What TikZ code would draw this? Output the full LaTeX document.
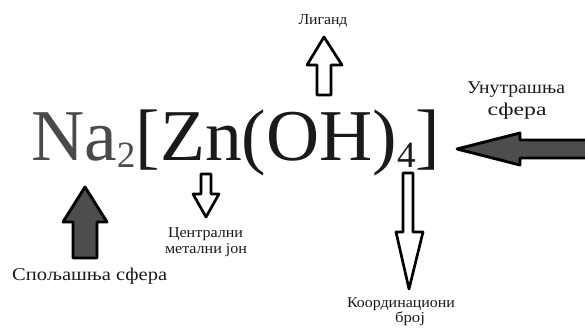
\documentclass[tikz,border=0pt]{standalone}
\usepackage{fontspec}
\usepackage{graphicx}
\setmainfont{Liberation Serif}
\definecolor{nagray}{HTML}{4A4A4A}
\definecolor{inkblack}{HTML}{1A1A1A}
\definecolor{arrowfill}{HTML}{4D4D4D}
\newcommand{\fitw}[3]{\resizebox{#1pt}{\height}{\fontsize{#2}{#2}\selectfont #3}}
\tikzset{
  hollowarrow/.style={draw=black, fill=white, line width=2.7pt, line join=round},
  solidarrow/.style={draw=black, fill=arrowfill, line width=2.9pt, line join=round},
  lbl/.style={inner sep=0pt, anchor=base, text=inkblack},
}
\begin{document}
\begin{tikzpicture}[x=1pt,y=-1pt]
\useasboundingbox (0,0) rectangle (585,329);
% formula
\node[inner sep=0pt, anchor=base west, text=inkblack] (formula) at (31,160)
  {\resizebox{409pt}{\height}{\fontsize{73}{73}\selectfont{\color{nagray}Na\raisebox{-7pt}{\fontsize{37}{37}\selectfont 2}}[Zn(OH)\raisebox{-7pt}{\fontsize{37}{37}\selectfont 4}]}};
% Ligand arrow (up, hollow)
\draw[hollowarrow] (324,37) -- (342,65) -- (331,65) -- (331,95) -- (317,95) -- (317,65) -- (307,65) -- cycle;
\node[lbl] (ligand) at (323,25) {\fitw{49}{15}{Лиганд}};
% Inner sphere arrow (left, dark)
\begin{scope}
\clip (0,0) rectangle (585,329);
\draw[solidarrow] (457,149) -- (520,133) -- (520,140) -- (592,140) -- (592,158) -- (520,158) -- (520,165) -- cycle;
\end{scope}
\node[lbl] (inner1) at (516,93) {\fitw{98}{18}{Унутрашња}};
\node[lbl] (inner2) at (517,115) {\fitw{59}{18}{сфера}};
% Outer sphere arrow (up, dark)
\draw[solidarrow] (85,187) -- (107,222) -- (97,222) -- (97,258) -- (73,258) -- (73,222) -- (63,222) -- cycle;
\node[lbl, anchor=base west] (outer) at (12,280) {\fitw{155}{18}{Спољашња сфера}};
% Central metal ion arrow (down, hollow)
\draw[hollowarrow] (201,174) -- (211,174) -- (211,194) -- (219,194) -- (206,217) -- (193,194) -- (201,194) -- cycle;
\node[lbl] (central1) at (205.5,237) {\fitw{75}{15}{Централни}};
\node[lbl] (central2) at (206,253) {\fitw{82}{15}{метални јон}};
% Coordination number arrow (down, hollow)
\draw[hollowarrow] (403,173) -- (413,173) -- (413,232) -- (423,232) -- (409,289) -- (396,232) -- (403,232) -- cycle;
\node[lbl] (coord1) at (401,307) {\fitw{108}{15}{Координациони}};
\node[lbl] (coord2) at (410,322) {\fitw{30}{15}{број}};
\end{tikzpicture}
\end{document}
